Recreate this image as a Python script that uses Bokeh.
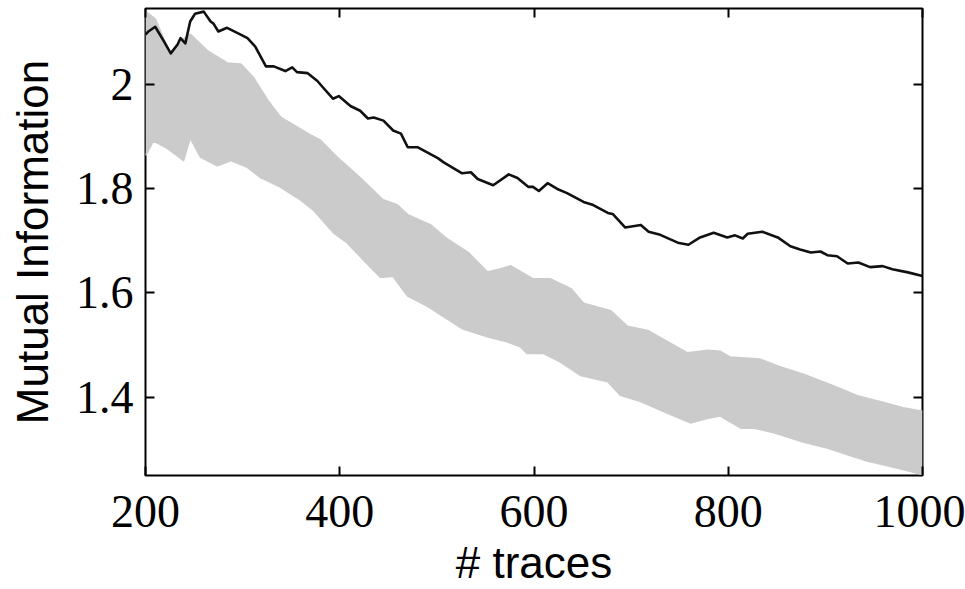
from bokeh.plotting import figure
from bokeh.models import LinearAxis, FixedTicker, Range1d, CustomJSTickFormatter
from bokeh.embed import file_html
from bokeh.resources import INLINE
import numpy as np

# --- data -------------------------------------------------------------------
# black curve (real key)
key_x = [200, 203, 210, 219, 226, 233, 236, 241, 246, 251, 260, 267, 270, 275, 284,
         298, 305, 313, 324, 332, 344, 351, 356, 367, 377, 383, 393, 399, 411, 421,
         429, 435, 445, 455, 463, 470, 480, 490, 501, 507, 526, 535, 542, 558, 574,
         583, 594, 599, 605, 614, 624, 634, 651, 661, 676, 681, 694, 710, 718, 730,
         748, 759, 771, 785, 799, 807, 815, 820, 835, 851, 864, 874, 885, 895, 902,
         912, 923, 934, 946, 959, 969, 985, 1000]
key_y = [2.095, 2.101, 2.110, 2.082, 2.059, 2.076, 2.088, 2.078, 2.120, 2.135, 2.139,
         2.120, 2.116, 2.101, 2.108, 2.095, 2.088, 2.072, 2.034, 2.034, 2.025, 2.032,
         2.023, 2.021, 2.006, 1.993, 1.972, 1.977, 1.958, 1.949, 1.934, 1.936, 1.930,
         1.911, 1.905, 1.879, 1.879, 1.869, 1.858, 1.850, 1.829, 1.831, 1.818, 1.806,
         1.827, 1.820, 1.803, 1.803, 1.795, 1.810, 1.799, 1.791, 1.774, 1.768, 1.753,
         1.751, 1.725, 1.730, 1.717, 1.711, 1.696, 1.692, 1.706, 1.715, 1.706, 1.710,
         1.704, 1.713, 1.717, 1.706, 1.689, 1.683, 1.677, 1.679, 1.672, 1.670, 1.656,
         1.658, 1.649, 1.651, 1.645, 1.639, 1.632]

# grey band of wrong-key curves: upper envelope
up_x = [200, 210, 226, 239, 246, 264, 284, 298, 311, 326, 339, 367, 380, 398, 421,
        444, 459, 470, 493, 511, 532, 552, 565, 576, 599, 617, 638, 651, 679, 696,
        717, 758, 779, 792, 802, 833, 851, 882, 908, 933, 960, 980, 1000]
up_y = [2.139, 2.124, 2.053, 2.086, 2.095, 2.063, 2.040, 2.038, 2.012, 1.968, 1.936,
        1.905, 1.892, 1.858, 1.820, 1.778, 1.768, 1.749, 1.730, 1.702, 1.677, 1.639,
        1.645, 1.651, 1.626, 1.626, 1.607, 1.579, 1.565, 1.535, 1.527, 1.484, 1.489,
        1.487, 1.476, 1.472, 1.459, 1.440, 1.421, 1.402, 1.389, 1.379, 1.372]

# grey band: lower envelope
lo_x = [200, 208, 221, 233, 239, 246, 257, 274, 288, 305, 318, 339, 360, 373, 394,
        408, 424, 442, 455, 470, 490, 511, 527, 552, 573, 586, 593, 610, 627, 648,
        676, 689, 710, 737, 761, 779, 792, 813, 826, 847, 874, 902, 923, 943, 964,
        985, 1000]
lo_y = [1.863, 1.892, 1.879, 1.863, 1.854, 1.898, 1.860, 1.844, 1.854, 1.841, 1.822,
        1.803, 1.778, 1.759, 1.715, 1.696, 1.664, 1.630, 1.632, 1.594, 1.575, 1.550,
        1.531, 1.516, 1.506, 1.497, 1.484, 1.484, 1.468, 1.442, 1.430, 1.404, 1.392,
        1.370, 1.351, 1.360, 1.364, 1.341, 1.341, 1.332, 1.316, 1.303, 1.290, 1.278,
        1.269, 1.259, 1.252]

x_ticks = [200, 400, 600, 800, 1000]
y_ticks = [1.4, 1.6, 1.8, 2.0]
x_label = "# traces"
y_label = "Mutual Information"

# --- figure -----------------------------------------------------------------
GREY = "#cbcbcb"
SERIF = "Liberation Serif"
SANS = "Liberation Sans"

p = figure(width=965, height=589, output_backend="svg", toolbar_location=None,
           x_range=Range1d(200, 1000), y_range=Range1d(1.2495, 2.145),
           min_border_left=145, min_border_right=43, min_border_top=8,
           min_border_bottom=111, x_axis_location=None, y_axis_location=None)
p.grid.visible = False
p.outline_line_color = "black"
p.outline_line_width = 2
p.background_fill_color = "white"
p.border_fill_color = "white"

# grey band
xs = np.arange(200, 1001, 1)
band_up = np.interp(xs, up_x, up_y)
band_lo = np.interp(xs, lo_x, lo_y)
p.varea(x=xs, y1=band_lo, y2=band_up, fill_color=GREY)
p.line(up_x, up_y, line_color=GREY, line_width=2.2, line_join="round")
p.line(lo_x, lo_y, line_color=GREY, line_width=2.2, line_join="round")

# key curve
p.line(key_x, key_y, line_color="#111111", line_width=2.6, line_join="round")


def style(ax, labels=True):
    ax.axis_line_color = None
    ax.major_tick_in = 9
    ax.major_tick_out = 0
    ax.major_tick_line_color = "black"
    ax.major_tick_line_width = 2
    ax.minor_tick_line_color = None
    if labels:
        ax.major_label_text_font = SERIF
        ax.major_label_text_font_size = "46px"
        ax.major_label_text_color = "black"
    else:
        ax.formatter = CustomJSTickFormatter(code="return ''")
        ax.major_label_standoff = 0


xb = LinearAxis(ticker=FixedTicker(ticks=x_ticks), axis_label=x_label)
style(xb)
xb.major_label_standoff = 20
xb.axis_label_text_font = SANS
xb.axis_label_text_font_size = "44px"
xb.axis_label_text_font_style = "normal"
xb.axis_label_text_color = "black"
xb.axis_label_standoff = 8
p.add_layout(xb, "below")

yl = LinearAxis(ticker=FixedTicker(ticks=y_ticks), axis_label=y_label)
style(yl)
yl.major_label_overrides = {2.0: "2"}
yl.major_label_standoff = 12
yl.axis_label_text_font = SANS
yl.axis_label_text_font_size = "44px"
yl.axis_label_text_font_style = "normal"
yl.axis_label_text_color = "black"
yl.axis_label_standoff = 16
p.add_layout(yl, "left")

xt = LinearAxis(ticker=FixedTicker(ticks=x_ticks))
style(xt, labels=False)
p.add_layout(xt, "above")

yr = LinearAxis(ticker=FixedTicker(ticks=y_ticks))
style(yr, labels=False)
p.add_layout(yr, "right")

open("out.html", "w").write(file_html(p, INLINE))
